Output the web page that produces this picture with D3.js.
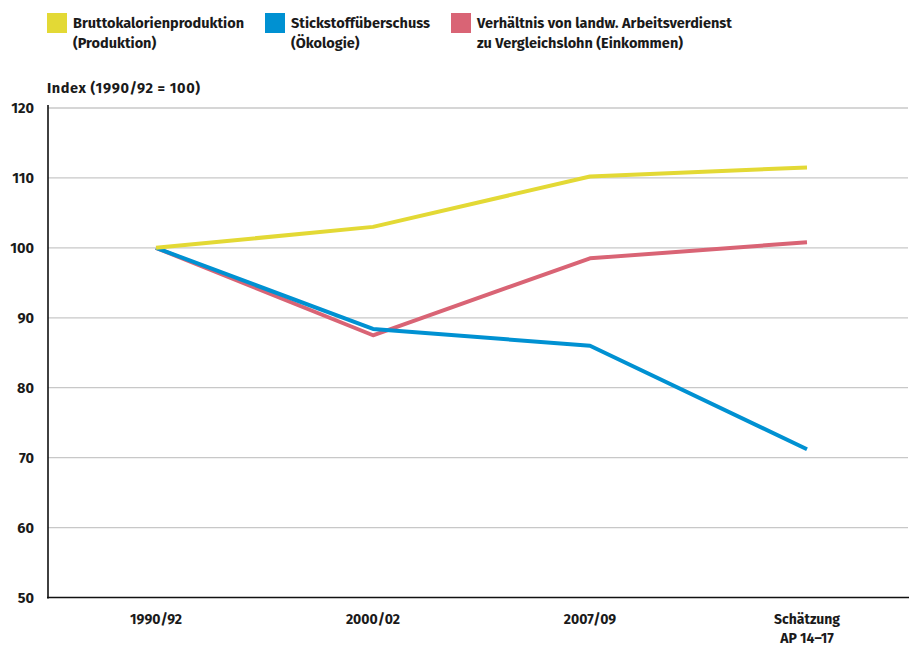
<!DOCTYPE html>
<html><head><meta charset="utf-8">
<script src="https://cdn.jsdelivr.net/npm/d3@7"></script>
<style>
body{margin:0;background:#fff;}
text{font-family:"Fira Sans","Open Sans","Noto Sans",sans-serif;font-weight:700;fill:#1a1a1a;}
</style></head>
<body>
<svg id="c" width="909" height="646"></svg>
<script>
const categories = ["1990/92", "2000/02", "2007/09", "Schätzung\nAP 14–17"];
const production = [100, 103, 110.2, 111.5];
const ecology = [100, 88.4, 86.0, 71.2];
const income = [100, 87.5, 98.5, 100.8];
const yTicks = [50, 60, 70, 80, 90, 100, 110, 120];
const seriesNames = [["Bruttokalorienproduktion", "(Produktion)"], ["Stickstoffüberschuss", "(Ökologie)"], ["Verhältnis von landw. Arbeitsverdienst", "zu Vergleichslohn (Einkommen)"]];
const colors = ["#e3d935", "#0091d2", "#d96475"];
const series = [production, ecology, income];

const svg = d3.select("#c");
const x = d3.scalePoint().domain(categories).range([156, 807]);
const y = d3.scaleLinear().domain([50, 120]).range([597.5, 108]);
const left = 48, right = 908;

// grid
svg.append("g").selectAll("line").data(yTicks.filter(d => d > 50)).join("line")
  .attr("x1", left).attr("x2", right).attr("y1", d => y(d)).attr("y2", d => y(d))
  .attr("stroke", "#c8c8c8").attr("stroke-width", 1.3);

// y labels
svg.append("g").selectAll("text").data(yTicks).join("text")
  .attr("x", 34).attr("y", d => y(d) + 5).attr("text-anchor", "end")
  .attr("font-size", 14.5).text(d => d);

// axes
svg.append("line").attr("x1", left).attr("x2", left).attr("y1", 105).attr("y2", y(50) + 1)
  .attr("stroke", "#111").attr("stroke-width", 1.6);
svg.append("line").attr("x1", left - 1).attr("x2", 909).attr("y1", y(50)).attr("y2", y(50))
  .attr("stroke", "#111").attr("stroke-width", 1.6);

// x labels
const xl = svg.append("g").selectAll("text").data(categories).join("text")
  .attr("x", d => x(d)).attr("y", 624).attr("text-anchor", "middle").attr("font-size", 14);
xl.each(function(d) {
  const parts = d.split("\n");
  d3.select(this).selectAll("tspan").data(parts).join("tspan")
    .attr("x", x(d)).attr("dy", (p, i) => i ? 19 : 0).text(p => p);
});

// lines (draw red first, then blue, then yellow)
const line = d3.line().x((d, i) => x(categories[i])).y(d => y(d));
[2, 1, 0].forEach(k => {
  svg.append("path").datum(series[k]).attr("d", line)
    .attr("fill", "none").attr("stroke", colors[k]).attr("stroke-width", 4)
    .attr("stroke-linejoin", "round");
});

// axis title
svg.append("text").attr("x", 47).attr("y", 93).attr("font-size", 14.5).attr("letter-spacing", 0.6).text("Index (1990/92 = 100)");

// legend
const lx = [47, 265, 451];
seriesNames.forEach((names, i) => {
  svg.append("rect").attr("x", lx[i]).attr("y", 13).attr("width", 20).attr("height", 20).attr("fill", colors[i]);
  const t = svg.append("text").attr("x", lx[i] + 26).attr("y", 28).attr("font-size", 14.5);
  names.forEach((n, j) => t.append("tspan").attr("x", lx[i] + 26).attr("dy", j ? 20 : 0).text(n));
});
</script>
</body></html>
